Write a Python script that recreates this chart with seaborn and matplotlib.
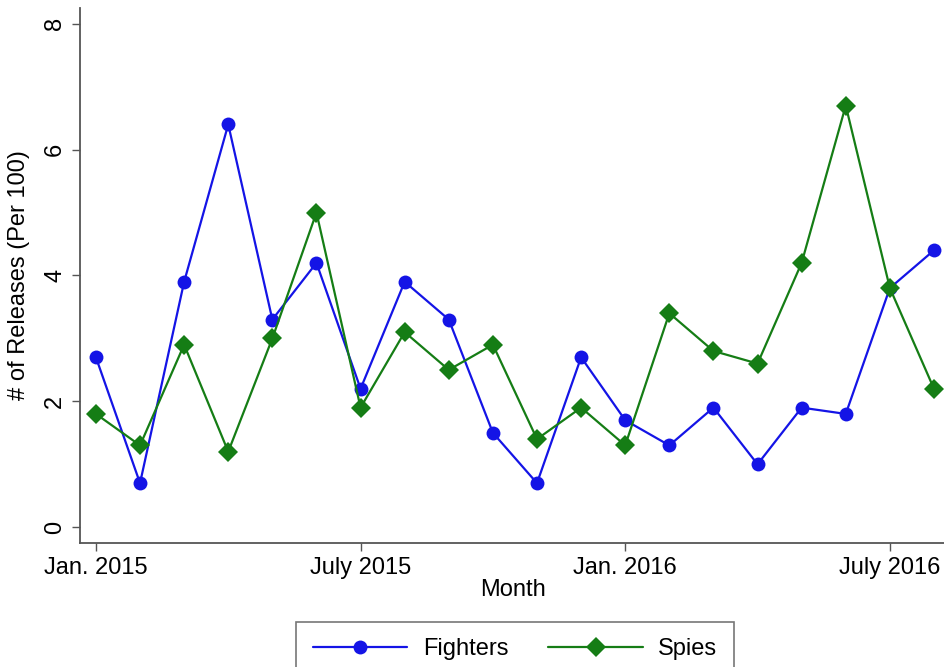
import pandas as pd
import seaborn as sns
import matplotlib.pyplot as plt

# Monthly values, Jan. 2015 .. Aug. 2016
months = ['2015-01', '2015-02', '2015-03', '2015-04', '2015-05', '2015-06',
          '2015-07', '2015-08', '2015-09', '2015-10', '2015-11', '2015-12',
          '2016-01', '2016-02', '2016-03', '2016-04', '2016-05', '2016-06',
          '2016-07', '2016-08']
fighters = [2.7, 0.7, 3.9, 6.4, 3.3, 4.2, 2.2, 3.9, 3.3, 1.5,
            0.7, 2.7, 1.7, 1.3, 1.9, 1.0, 1.9, 1.8, 3.8, 4.4]
spies = [1.8, 1.3, 2.9, 1.2, 3.0, 5.0, 1.9, 3.1, 2.5, 2.9,
         1.4, 1.9, 1.3, 3.4, 2.8, 2.6, 4.2, 6.7, 3.8, 2.2]
tick_months = ['2015-01', '2015-07', '2016-01', '2016-07']
tick_labels = ['Jan. 2015', 'July 2015', 'Jan. 2016', 'July 2016']
y_ticks = [0, 2, 4, 6, 8]

sns.set_style('white')
plt.rcParams['font.family'] = ['Liberation Sans', 'DejaVu Sans']
plt.rcParams['text.color'] = 'black'
plt.rcParams['axes.labelcolor'] = 'black'
plt.rcParams['xtick.labelcolor'] = 'black'
plt.rcParams['ytick.labelcolor'] = 'black'

df = pd.DataFrame({
    'idx': list(range(len(months))) * 2,
    'value': fighters + spies,
    'series': ['Fighters'] * len(months) + ['Spies'] * len(months),
})

fig = plt.figure(figsize=(9.45, 6.67), dpi=100)
ax = fig.add_axes([0.0847, 0.186, 0.9153, 0.802])

sns.lineplot(data=df, x='idx', y='value', hue='series', style='series',
             palette={'Fighters': '#1414e6', 'Spies': '#157d15'},
             markers={'Fighters': 'o', 'Spies': 'D'}, dashes=False,
             markersize=10, markeredgewidth=0, linewidth=1.6, ax=ax)

# axes styling (Stata look)
for s in ['top', 'right']:
    ax.spines[s].set_visible(False)
for s in ['left', 'bottom']:
    ax.spines[s].set_color('#555555')
    ax.spines[s].set_linewidth(1.3)

ax.set_xlim(-0.36, 19.25)
ax.set_ylim(-0.25, 8.25)
ax.set_xticks([months.index(m) for m in tick_months])
ax.set_xticklabels(tick_labels)
ax.set_yticks(y_ticks)
ax.tick_params(axis='both', labelsize=17, direction='out', length=6,
               width=1, color='#555555', bottom=True, left=True, pad=4)
for lab in ax.get_yticklabels():
    lab.set_rotation(90)
    lab.set_va('center')

ax.set_xlabel('Month', fontsize=17, labelpad=0)
ax.set_ylabel('# of Releases (Per 100)', fontsize=17, labelpad=10)

leg = ax.legend(loc='upper center', bbox_to_anchor=(0.503, -0.125), ncol=2,
                fontsize=17, frameon=True, fancybox=False, handlelength=4.0,
                handletextpad=0.65, columnspacing=1.7, borderpad=0.7)
leg.get_frame().set_edgecolor('#555555')
leg.get_frame().set_linewidth(1.2)

plt.savefig('out.png', dpi=100)
